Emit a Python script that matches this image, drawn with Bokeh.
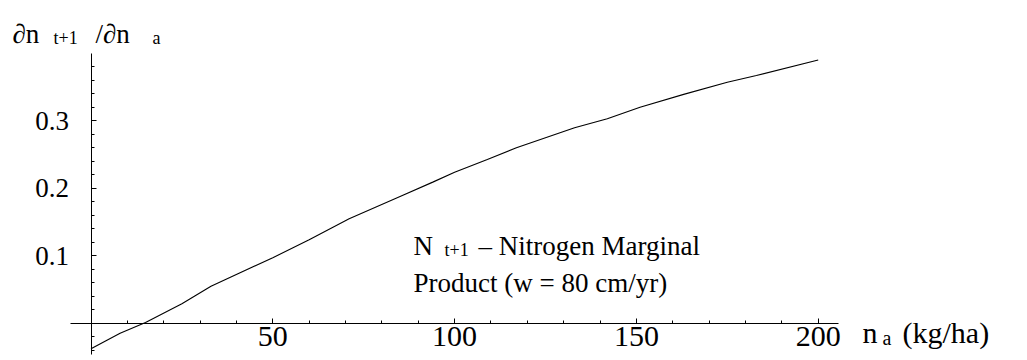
from bokeh.plotting import figure
from bokeh.models import Range1d, FixedTicker, ColumnDataSource, LinearAxis
from bokeh.core.properties import value
from bokeh.embed import file_html
from bokeh.resources import INLINE

# ---- data ----
n_a = [0, 8, 15, 25, 33, 50, 60, 71, 85, 94, 100, 109, 117, 133, 142, 151, 163, 175, 183, 200]
dn = [-0.038, -0.0148, 0.001, 0.0287, 0.0548, 0.097, 0.1235, 0.1547, 0.1877, 0.209,
      0.2235, 0.2425, 0.260, 0.2895, 0.303, 0.320, 0.339, 0.357, 0.367, 0.390]

x_major = [50, 100, 150, 200]
x_minor = [10, 20, 30, 40, 60, 70, 80, 90, 110, 120, 130, 140, 160, 170, 180, 190]
y_major = [0.1, 0.2, 0.3]
y_minor = [-0.04, -0.02, 0.02, 0.04, 0.06, 0.08, 0.12, 0.14, 0.16, 0.18,
           0.22, 0.24, 0.26, 0.28, 0.32, 0.34, 0.36, 0.38]

# ---- pixel <-> data mapping (frame fills whole canvas) ----
W, H = 1027, 360
X0, XS = 90.5, 3.636     # pixel of x=0, pixels per unit
Y0, YS = 322.7, 675.0    # pixel of y=0, pixels per unit

def dx(px):
    return (px - X0) / XS

def dy(py):
    return (Y0 - py) / YS

FONT = "Liberation Serif"

p = figure(width=W, height=H, output_backend="svg", toolbar_location=None,
           x_range=Range1d(dx(0), dx(W)), y_range=Range1d(dy(H), dy(0)),
           min_border=0, min_border_left=0, min_border_right=0,
           min_border_top=0, min_border_bottom=0, x_axis_location=None,
           y_axis_location=None)
p.outline_line_color = None
p.grid.visible = False
p.background_fill_color = "white"
p.border_fill_color = "white"

xa = LinearAxis(fixed_location=0)
xa.ticker = FixedTicker(ticks=x_major, minor_ticks=x_minor)
xa.bounds = (dx(70), dx(838))
ya = LinearAxis(fixed_location=0)
ya.ticker = FixedTicker(ticks=y_major, minor_ticks=y_minor)
ya.bounds = (dy(354), dy(53))

for ax in (xa, ya):
    ax.axis_line_color = "black"
    ax.axis_line_width = 1
    ax.major_tick_in = 5
    ax.major_tick_out = 0
    ax.minor_tick_in = 3
    ax.minor_tick_out = 0
    ax.major_tick_line_color = "black"
    ax.minor_tick_line_color = "black"
    ax.major_label_text_font = FONT
    ax.major_label_text_color = "black"

xa.major_label_text_font_size = "30px"
xa.major_label_standoff = 4
ya.major_label_text_font_size = "27px"
ya.major_label_standoff = 22

p.add_layout(xa, "below")
p.add_layout(ya, "left")

src = ColumnDataSource(dict(x=n_a, y=dn))
p.line("x", "y", source=src, line_color="black", line_width=1.1)

def txt(px, py, s, size):
    p.text(x=[dx(px)], y=[dy(py)], text=[s], text_font=value(FONT),
           text_font_size=value(size), text_color="black",
           text_align="left", text_baseline="alphabetic")

# title (y-axis label)
txt(12, 33, "∂n", "27px")
txt(53, 37, "t+1", "18px")
txt(95, 33, "/∂n", "27px")
txt(152, 37, "a", "18px")

# annotation
txt(413, 245, "N", "27px")
txt(444, 249, "t+1", "18px")
txt(478, 245, "– Nitrogen Marginal", "27px")
txt(413, 282, "Product (w = 80 cm/yr)", "27px")

# x-axis label
txt(862, 332, "n", "30px")
txt(882, 337, "a", "20px")
txt(902, 332, "(kg/ha)", "30px")

open("out.html", "w").write(file_html(p, INLINE))
